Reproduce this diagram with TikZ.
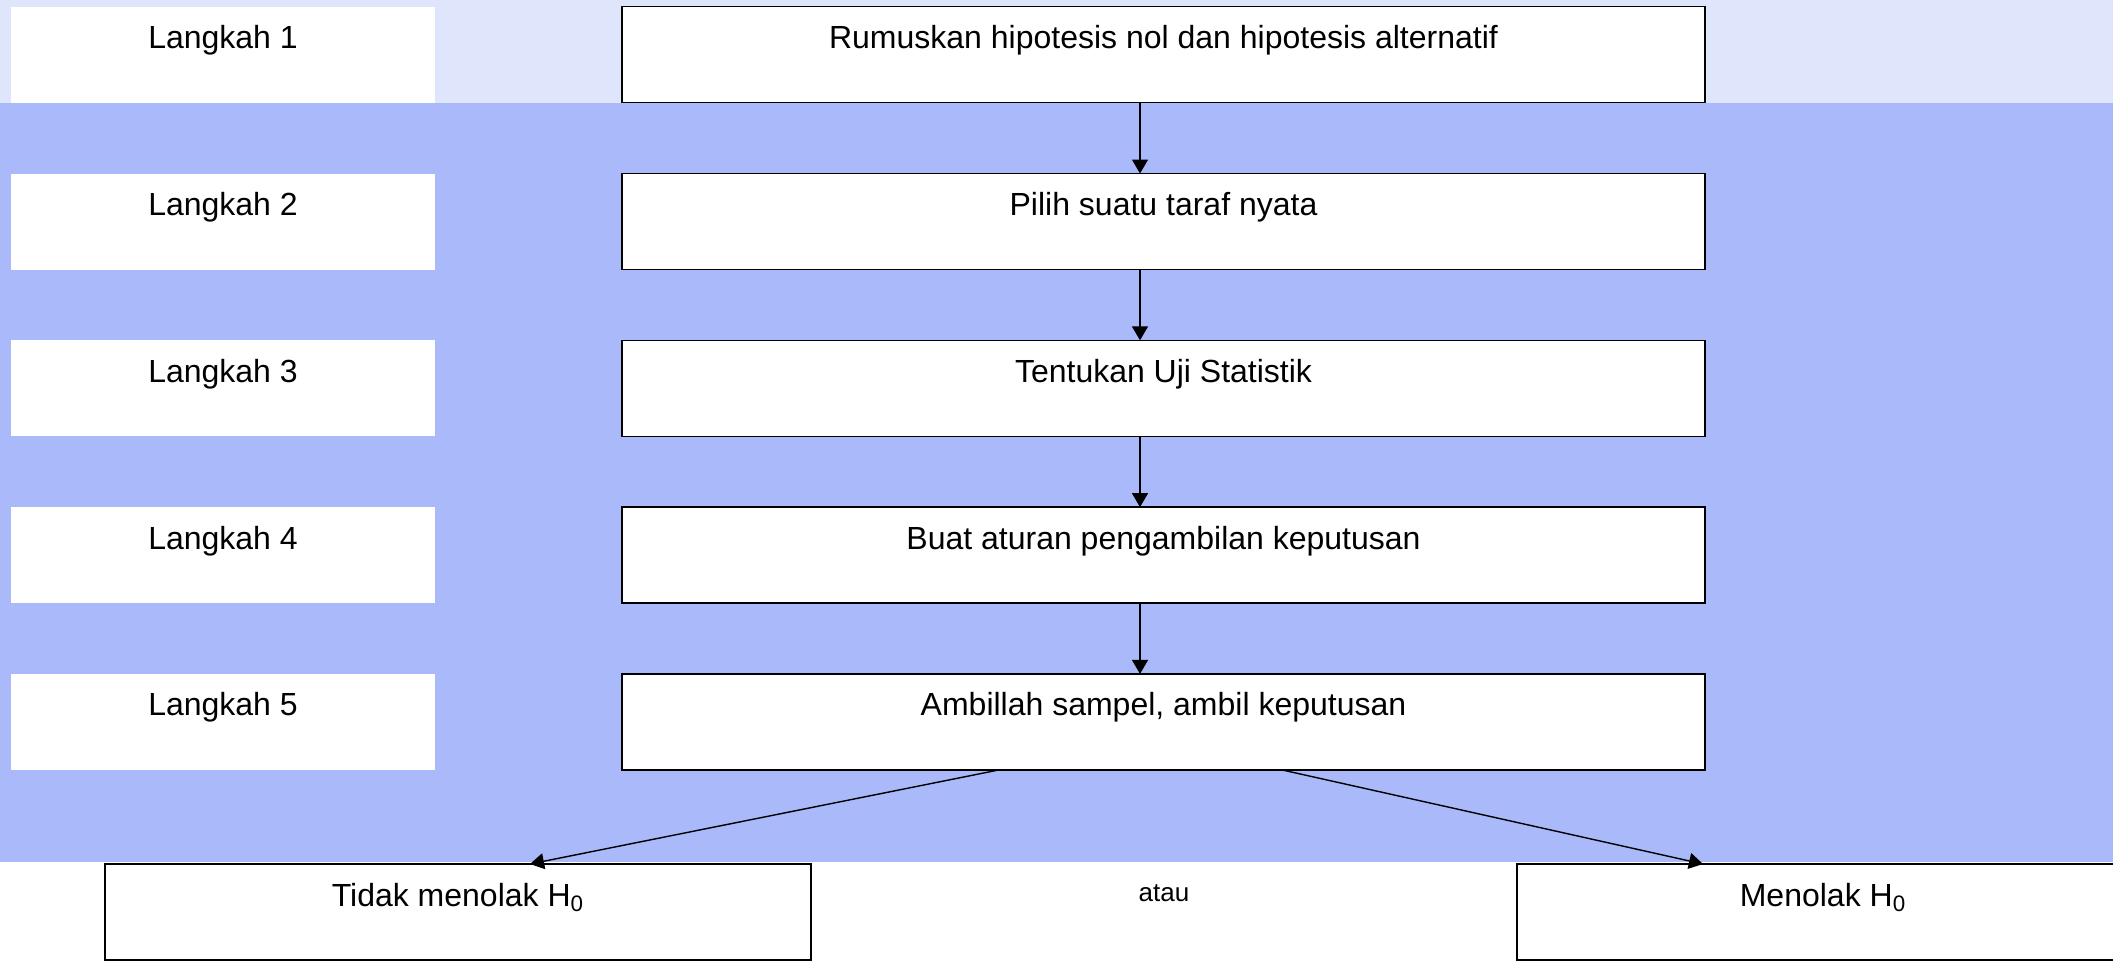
\documentclass[tikz,border=0pt]{standalone}
\usepackage{fontspec}
\setmainfont{Liberation Sans}
\usepackage{tikz}
\usetikzlibrary{arrows.meta,positioning}
\definecolor{bandtop}{HTML}{DFE5FA}
\definecolor{bandblue}{HTML}{A9B9FA}

\begin{document}
\begin{tikzpicture}[
  node distance=35.4pt and 93.5pt,
  every node/.style={font=\fontsize{16}{19}\selectfont,outer sep=0pt},
  stepbox/.style={fill=white,inner xsep=0pt,inner ysep=0pt,text height=21pt,text depth=27pt,minimum width=212pt},
  flowbox/.style={stepbox,draw=black,line width=0.7pt,minimum width=541.5pt},
  arr/.style={-{Triangle[width=8pt,length=7pt]},line width=0.7pt}
]
% background
\fill[bandtop] (0,0) rectangle (1056.5pt,-51.5pt);
\fill[bandblue] (0,-51.5pt) rectangle (1056.5pt,-431pt);
\useasboundingbox (0,0) rectangle (1056.5pt,-480pt);
% steps
\node[stepbox,anchor=north west] (l1) at (5.5pt,-3.35pt) {Langkah 1};
\node[stepbox,below=of l1] (l2) {Langkah 2};
\node[stepbox,below=of l2] (l3) {Langkah 3};
\node[stepbox,below=of l3] (l4) {Langkah 4};
\node[stepbox,below=of l4] (l5) {Langkah 5};
\node[flowbox,right=of l1] (rumus) {Rumuskan hipotesis nol dan hipotesis alternatif};
\node[flowbox,right=of l2] (taraf) {Pilih suatu taraf nyata};
\node[flowbox,right=of l3] (uji) {Tentukan Uji Statistik};
\node[flowbox,right=of l4] (aturan) {Buat aturan pengambilan keputusan};
\node[flowbox,right=of l5] (sampel) {Ambillah sampel, ambil keputusan};
% outcomes
\node[flowbox,minimum width=353pt,anchor=north] (terima) at (229pt,-432pt) {Tidak menolak H\textsubscript{0}};
\node[flowbox,minimum width=306pt,anchor=north] (tolak) at (911.5pt,-432pt) {Menolak H\textsubscript{0}};
\node[font=\fontsize{13}{15}\selectfont,anchor=base] (atau) at (582pt,-450.5pt) {atau};
\draw[arr] ([xshift=-11.75pt]rumus.south)--([xshift=-11.75pt]taraf.north);
\draw[arr] ([xshift=-11.75pt]taraf.south)--([xshift=-11.75pt]uji.north);
\draw[arr] ([xshift=-11.75pt]uji.south)--([xshift=-11.75pt]aturan.north);
\draw[arr] ([xshift=-11.75pt]aturan.south)--([xshift=-11.75pt]sampel.north);
\draw[arr] ([xshift=-82.25pt]sampel.south)--([xshift=36pt]terima.north);
\draw[arr] ([xshift=59.25pt]sampel.south)--([xshift=-60pt]tolak.north);
\end{tikzpicture}
\end{document}
